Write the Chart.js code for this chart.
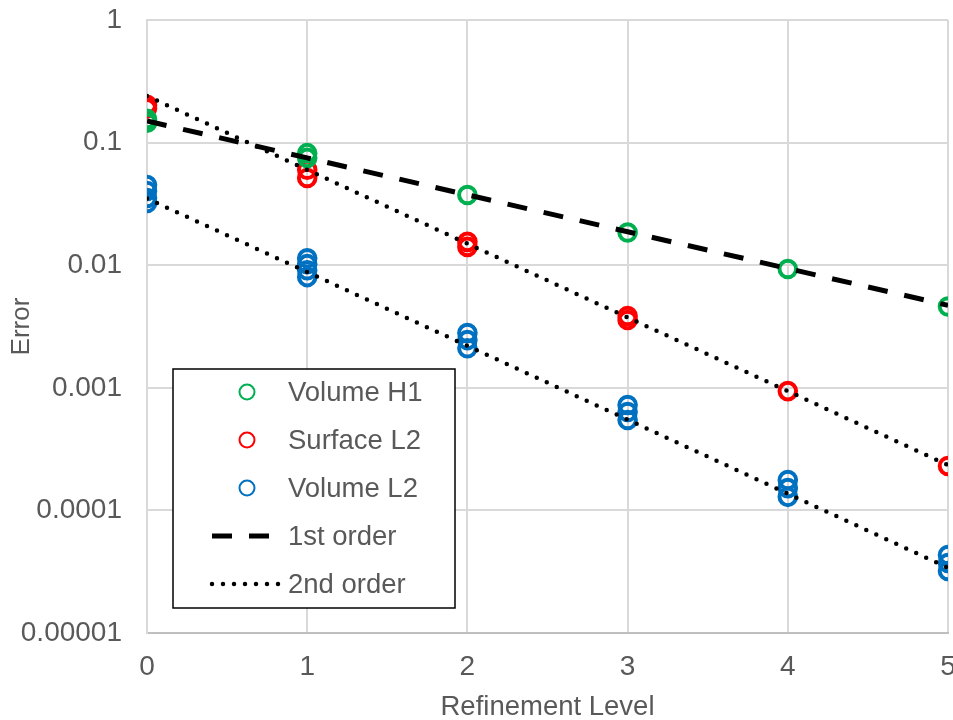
<!DOCTYPE html>
<html><head><meta charset="utf-8">
<script src="https://cdn.jsdelivr.net/npm/chart.js@4/dist/chart.umd.min.js"></script>
<style>
html,body{margin:0;padding:0;background:#fff;overflow:hidden;width:953px;height:720px;}
#wrap{position:absolute;left:0;top:0;width:1000px;height:760px;}
</style>
</head><body><div id="wrap"><canvas id="c" width="1000" height="760"></canvas></div>
<script>
// ---- data ----
const levels = [0, 1, 2, 3, 4, 5];
const volumeH1 = [[0.156, 0.145], [0.082, 0.075], [0.0374], [0.0185], [0.0093], [0.0046]];
const surfaceL2 = [[0.203, 0.19], [0.06, 0.0515], [0.0155, 0.0141], [0.00385, 0.00357], [0.00094], [0.00023]];
const volumeL2 = [[0.045, 0.0403, 0.0353, 0.0322], [0.0114, 0.0102, 0.0091, 0.008], [0.0028, 0.00245, 0.0021], [0.000724, 0.000635, 0.000546], [0.000177, 0.000152, 0.000129], [0.0000433, 0.0000372, 0.000032]];
const firstOrder = [0.15, 0.075, 0.0375, 0.01875, 0.0094, 0.0047];
const secondOrderA = [0.24, 0.06, 0.015, 0.00375, 0.00094, 0.000234];
const secondOrderB = [0.035, 0.0088, 0.0022, 0.00055, 0.000137, 0.000034];
const yTicks = [1, 0.1, 0.01, 0.001, 0.0001, 0.00001];
const yTickLabels = ['1', '0.1', '0.01', '0.001', '0.0001', '0.00001'];
const seriesNames = ['Volume H1', 'Surface L2', 'Volume L2', '1st order', '2nd order'];
const xTitle = 'Refinement Level';
const yTitle = 'Error';

// ---- build ----
const FONT = '"Liberation Sans", Arial, sans-serif';
const TXT = '#595959';
Chart.defaults.font.family = FONT;

function groupPts(groups) {
  const out = [];
  groups.forEach((vals, i) => vals.forEach(v => out.push({x: levels[i], y: v})));
  return out;
}
function linePts(arr) { return arr.map((v, i) => ({x: levels[i], y: v})); }

const legendBox = {
  id: 'legendBox',
  afterDatasetsDraw(chart) {
    const {ctx, chartArea: a} = chart;
    const x0 = a.left + 26, y0 = a.top + 349, w = 282, h = 239;
    ctx.save();
    ctx.fillStyle = '#fff';
    ctx.fillRect(x0, y0, w, h);
    ctx.strokeStyle = '#000';
    ctx.lineWidth = 1.5;
    ctx.strokeRect(x0, y0, w, h);
    [0, 1, 2, 3, 4].forEach((di, r) => {
      const ds = chart.data.datasets[di];
      const cy = y0 + 23 + r * 48;
      ctx.save();
      if (di < 3) {
        ctx.beginPath();
        ctx.arc(x0 + 74, cy, 7.5, 0, Math.PI * 2);
        ctx.strokeStyle = ds.pointBorderColor;
        ctx.lineWidth = 2;
        ctx.stroke();
      } else {
        ctx.beginPath();
        ctx.moveTo(x0 + 39, cy);
        ctx.lineTo(x0 + 109, cy);
        ctx.strokeStyle = ds.borderColor;
        ctx.lineWidth = ds.borderWidth;
        ctx.lineCap = ds.borderCapStyle || 'butt';
        ctx.setLineDash(ds.borderDash || []);
        ctx.stroke();
      }
      ctx.restore();
      ctx.fillStyle = TXT;
      ctx.font = '27.5px ' + FONT;
      ctx.textBaseline = 'middle';
      ctx.textAlign = 'left';
      ctx.fillText(seriesNames[r], x0 + 115, cy + 1);
    });
    ctx.restore();
  }
};

function scatterSet(name, groups, color, order) {
  return {label: name, data: groupPts(groups), borderColor: color, backgroundColor: 'rgba(0,0,0,0)',
    pointBorderColor: color, pointBackgroundColor: 'rgba(0,0,0,0)', pointRadius: 8.3, pointBorderWidth: 4, order: order};
}

new Chart(document.getElementById('c'), {
  type: 'scatter',
  data: {
    datasets: [
      scatterSet(seriesNames[0], volumeH1, '#00B050', 1),
      scatterSet(seriesNames[1], surfaceL2, '#FF0000', 2),
      scatterSet(seriesNames[2], volumeL2, '#0070C0', 3),
      {label: seriesNames[3], type: 'line', data: linePts(firstOrder), borderColor: '#000', borderWidth: 5, borderDash: [20, 17], borderCapStyle: 'butt', pointRadius: 0, showLine: true, fill: false, tension: 0, order: 0},
      {label: seriesNames[4], type: 'line', data: linePts(secondOrderA), borderColor: '#000', borderWidth: 4.5, borderDash: [0, 11], borderCapStyle: 'round', pointRadius: 0, showLine: true, fill: false, tension: 0, order: 0},
      {label: seriesNames[4], type: 'line', data: linePts(secondOrderB), borderColor: '#000', borderWidth: 4.5, borderDash: [0, 11], borderCapStyle: 'round', pointRadius: 0, showLine: true, fill: false, tension: 0, order: 0}
    ]
  },
  options: {
    responsive: false,
    animation: false,
    events: [],
    layout: {padding: {top: 0, right: 52, left: 0, bottom: 0}},
    plugins: {legend: {display: false}, tooltip: {enabled: false}, title: {display: false}},
    scales: {
      x: {
        type: 'linear', min: 0, max: 5,
        ticks: {stepSize: 1, color: TXT, font: {size: 28}, padding: 17},
        grid: {color: '#d9d9d9', lineWidth: 2, drawTicks: false},
        border: {color: '#bfbfbf', width: 2},
        title: {display: true, text: xTitle, color: TXT, font: {size: 27.5}, padding: {top: 0, bottom: 36}},
        afterFit(s) { s.height = 127; }
      },
      y: {
        type: 'logarithmic', min: 0.00001, max: 1,
        afterBuildTicks(s) { s.ticks = yTicks.map(v => ({value: v})); },
        ticks: {
          color: TXT, font: {size: 28}, padding: 25,
          callback(v) {
            const i = yTicks.findIndex(t => Math.abs(Math.log10(t) - Math.log10(v)) < 1e-6);
            return i >= 0 ? yTickLabels[i] : '';
          }
        },
        grid: {color: '#d9d9d9', lineWidth: 2, drawTicks: false},
        border: {color: '#d9d9d9', width: 2},
        title: {display: true, text: yTitle, color: TXT, font: {size: 26}, padding: {top: 6, bottom: 0}},
        afterFit(s) { s.width = 147; s.paddingTop = 20; }
      }
    }
  },
  plugins: [legendBox]
});
</script>
</body></html>
